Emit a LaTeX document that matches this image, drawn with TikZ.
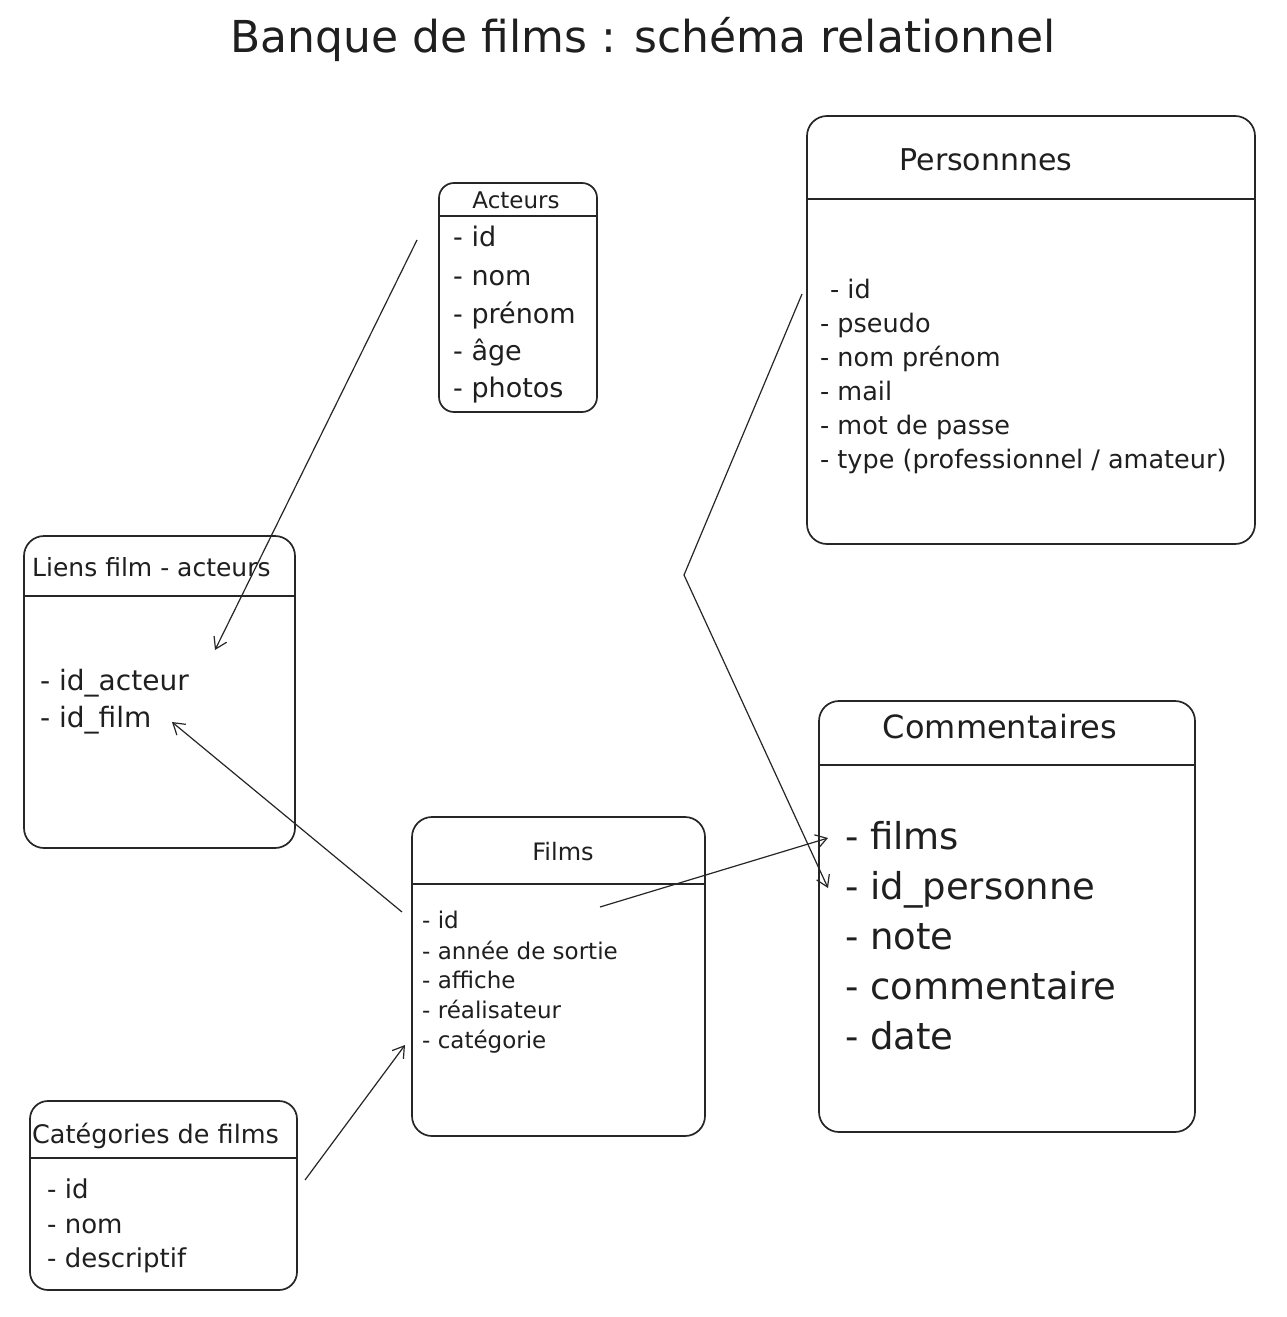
\documentclass[tikz,border=0pt]{standalone}
\usepackage{fontspec}
\setmainfont{DejaVu Sans}
\usetikzlibrary{arrows.meta}
\newcommand{\fsz}[1]{\fontsize{#1}{#1}\selectfont}
\begin{document}
\begin{tikzpicture}[x=1pt,y=-1pt,
  tbl/.style={draw=black!85, line width=1.7pt, rounded corners=#1, inner sep=0pt},
  tbl/.default=18pt,
  hdr/.style={draw=black!85, line width=1.7pt},
  txt/.style={anchor=base west, inner sep=0pt, text=black!88},
  ctxt/.style={anchor=base, inner sep=0pt, text=black!88},
  conn/.style={draw=black!85, line width=1.2pt, -{Straight Barb[length=11pt,width=14pt,line width=1.2pt]}}]
\useasboundingbox[fill=white] (0,0) rectangle (1286,1317);

% title
\node[ctxt, font=\fsz{44}] (title) at (643,52) {Banque de films : schéma relationnel};

% Acteurs
\node[tbl=15pt, minimum width=158pt, minimum height=229pt] (act) at (518,297.5) {};
\draw[hdr] (act.west |- 0,216) -- (act.east |- 0,216);
\node[ctxt, font=\fsz{23}] (actT) at (516,208) {Acteurs};
\node[txt, font=\fsz{27}] (act1) at (453,246) {- id};
\node[txt, font=\fsz{27}] (act2) at (453,285) {- nom};
\node[txt, font=\fsz{27}] (act3) at (453,323) {- prénom};
\node[txt, font=\fsz{27}] (act4) at (453,360) {- âge};
\node[txt, font=\fsz{27}] (act5) at (453,397) {- photos};

% Personnnes
\node[tbl=20pt, minimum width=448pt, minimum height=428pt] (pers) at (1031,330) {};
\draw[hdr] (pers.west |- 0,199) -- (pers.east |- 0,199);
\node[ctxt, font=\fsz{30}] (persT) at (986,170) {Personnnes};
\node[txt, font=\fsz{25.5}] (p1) at (830,298) {- id};
\node[txt, font=\fsz{25.5}] (p2) at (820,332) {- pseudo};
\node[txt, font=\fsz{25.5}] (p3) at (820,366) {- nom prénom};
\node[txt, font=\fsz{25.5}] (p4) at (820,400) {- mail};
\node[txt, font=\fsz{25.5}] (p5) at (820,434) {- mot de passe};
\node[txt, font=\fsz{25.5}] (p6) at (820,468) {- type (professionnel / amateur)};

% Liens film - acteurs
\node[tbl=20pt, minimum width=271pt, minimum height=312pt] (lien) at (159.5,692) {};
\draw[hdr] (lien.west |- 0,596) -- (lien.east |- 0,596);
\node[txt, font=\fsz{25}] (lienT) at (32,576) {Liens film - acteurs};
\node[txt, font=\fsz{28}] (l1) at (40,690) {- id\_acteur};
\node[txt, font=\fsz{28}] (l2) at (40,727) {- id\_film};

% Films
\node[tbl=20pt, minimum width=293pt, minimum height=319pt] (films) at (558.5,976.5) {};
\draw[hdr] (films.west |- 0,884) -- (films.east |- 0,884);
\node[ctxt, font=\fsz{24}] (filmsT) at (563,860) {Films};
\node[txt, font=\fsz{23}] (f1) at (422,928) {- id};
\node[txt, font=\fsz{23}] (f2) at (422,959) {- année de sortie};
\node[txt, font=\fsz{23}] (f3) at (422,988) {- affiche};
\node[txt, font=\fsz{23}] (f4) at (422,1018) {- réalisateur};
\node[txt, font=\fsz{23}] (f5) at (422,1048) {- catégorie};

% Commentaires
\node[tbl=20pt, minimum width=376pt, minimum height=431pt] (com) at (1007,916.5) {};
\draw[hdr] (com.west |- 0,765) -- (com.east |- 0,765);
\node[ctxt, font=\fsz{32}] (comT) at (1000,738) {Commentaires};
\node[txt, font=\fsz{37}] (c1) at (845,849) {- films};
\node[txt, font=\fsz{37}] (c2) at (845,899) {- id\_personne};
\node[txt, font=\fsz{37}] (c3) at (845,949) {- note};
\node[txt, font=\fsz{37}] (c4) at (845,999) {- commentaire};
\node[txt, font=\fsz{37}] (c5) at (845,1049) {- date};

% Categories
\node[tbl=18pt, minimum width=267pt, minimum height=189pt] (cat) at (163.5,1195.5) {};
\draw[hdr] (cat.west |- 0,1158) -- (cat.east |- 0,1158);
\node[txt, font=\fsz{25.5}] (catT) at (32,1143) {Catégories de films};
\node[txt, font=\fsz{26}] (k1) at (47,1198) {- id};
\node[txt, font=\fsz{26}] (k2) at (47,1233) {- nom};
\node[txt, font=\fsz{26}] (k3) at (47,1267) {- descriptif};

% connector end points
\coordinate (a1s) at (417,240);
\coordinate (a1e) at (215,650);
\coordinate (a2s) at (402,912);
\coordinate (a2e) at (172,722);
\coordinate (a3s) at (305,1180);
\coordinate (a3e) at (405,1045);
\coordinate (a4s) at (600,907);
\coordinate (a4e) at (828,838);
\coordinate (a5s) at (802,294);
\coordinate (a5m) at (684,575);
\coordinate (a5e) at (828,888);

\draw[conn] (a1s) -- (a1e);
\draw[conn] (a2s) -- (a2e);
\draw[conn] (a3s) -- (a3e);
\draw[conn] (a4s) -- (a4e);
\draw[conn] (a5s) -- (a5m) -- (a5e);
\end{tikzpicture}
\end{document}
